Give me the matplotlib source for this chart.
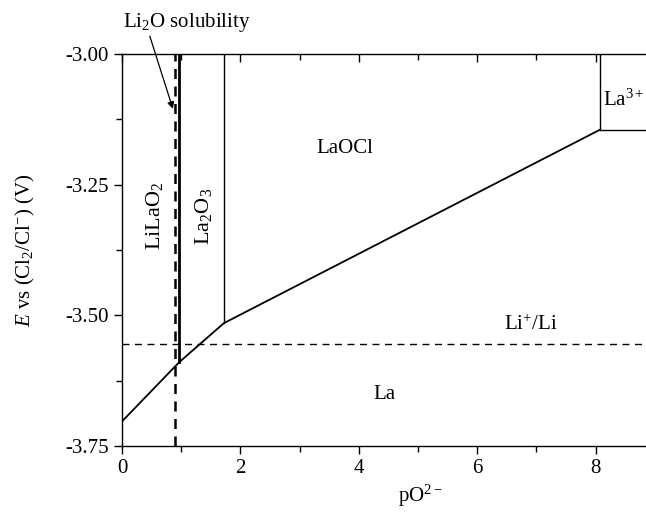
import matplotlib.pyplot as plt
from matplotlib.ticker import MultipleLocator

plt.rcParams['font.family'] = ['Liberation Serif', 'DejaVu Serif']
plt.rcParams['mathtext.fontset'] = 'custom'
plt.rcParams['mathtext.rm'] = 'Liberation Serif'
plt.rcParams['mathtext.it'] = 'Liberation Serif:italic'

# phase boundaries (pO2-, E)
lower_x = [0.0, 0.963, 1.72, 8.07]
lower_e = [-3.703, -3.590, -3.515, -3.145]
lilao2_x = 0.963
la2o3_x = 1.72
la3_x = 8.07
li2o_sol_x = 0.895
li_ref_e = -3.554

fig = plt.figure(figsize=(6.46, 5.16), dpi=100)
ax = fig.add_axes([122/646, 70/516, 524/646, 392/516])
ax.set_xlim(0, 8.85)
ax.set_ylim(-3.75, -3.00)

ax.plot(lower_x, lower_e, color='black', lw=1.3)
ax.plot([lilao2_x, lilao2_x], [lower_e[1], -3.0], color='black', lw=2.0)
ax.plot([la2o3_x, la2o3_x], [lower_e[2], -3.0], color='black', lw=1.0)
ax.plot([la3_x, la3_x], [lower_e[3], -3.0], color='black', lw=1.0)
ax.plot([la3_x, 8.85], [lower_e[3], lower_e[3]], color='black', lw=1.0)
ax.plot([li2o_sol_x, li2o_sol_x], [-3.75, -3.0], color='black', lw=1.8,
        dashes=(4, 3))
ax.axhline(li_ref_e, color='black', lw=1.0, dashes=(5, 4))

fs = 15
ax.text(3.77, -3.18, 'LaOCl', fontsize=fs, ha='center', va='center')
ax.text(4.44, -3.652, 'La', fontsize=fs, ha='center', va='center')
ax.text(6.91, -3.518, 'Li$^{+}$/Li', fontsize=fs, ha='center', va='center')
ax.text(8.12, -3.088, 'La$^{3+}$', fontsize=fs, ha='left', va='center',
        clip_on=False)
ax.text(0.55, -3.31, 'LiLaO$_2$', fontsize=16, ha='center', va='center',
        rotation=90)
ax.text(1.37, -3.31, 'La$_2$O$_3$', fontsize=16, ha='center', va='center',
        rotation=90)
ax.text(1.1, -2.94, 'Li$_2$O solubility', fontsize=fs, ha='center',
        va='center', clip_on=False)
ax.annotate('', xy=(0.86, -3.105), xytext=(0.47, -2.966),
            annotation_clip=False,
            arrowprops=dict(arrowstyle='-|>', color='black', lw=0.9,
                            shrinkA=0, shrinkB=0, mutation_scale=10))

ax.set_xlabel('pO$^{2-}$', fontsize=fs)
ax.xaxis.set_label_coords(0.569, -0.095)
ax.set_ylabel('$E$ vs (Cl$_2$/Cl$^{-}$) (V)', fontsize=fs, labelpad=20)

ax.xaxis.set_major_locator(MultipleLocator(2))
ax.xaxis.set_minor_locator(MultipleLocator(1))
ax.yaxis.set_major_locator(MultipleLocator(0.25))
ax.yaxis.set_minor_locator(MultipleLocator(0.125))
ax.yaxis.set_major_formatter(plt.FormatStrFormatter('%.2f'))
ax.tick_params(axis='both', which='major', labelsize=fs, length=6, width=1)
ax.tick_params(axis='both', which='minor', length=4, width=1)
ax.tick_params(axis='x', which='both', direction='out', top=True)
ax.spines['right'].set_visible(False)
for s in ['left', 'top', 'bottom']:
    ax.spines[s].set_linewidth(1.0)

# top ticks point inward
for t in ax.xaxis.get_major_ticks() + ax.xaxis.get_minor_ticks():
    t.tick2line.set_marker(3)

fig.savefig('out.png', dpi=100)
